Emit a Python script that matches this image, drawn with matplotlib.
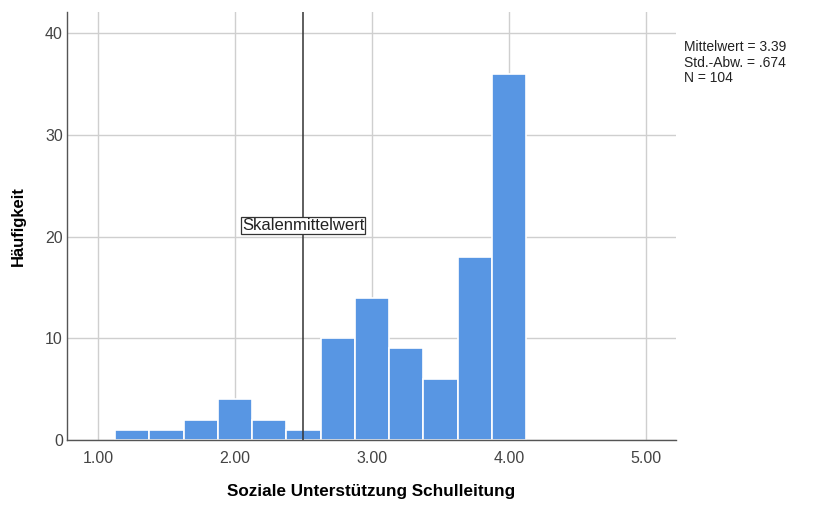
import matplotlib
matplotlib.use('Agg')
from matplotlib import pyplot as plt

plt.rcParams['font.family'] = ['Liberation Sans', 'DejaVu Sans']

# bin centres (width .25) and counts
bin_centers = [1.25, 1.50, 1.75, 2.00, 2.25, 2.50, 2.75, 3.00, 3.25, 3.50, 3.75, 4.00]
counts = [1, 1, 2, 4, 2, 1, 10, 14, 9, 6, 18, 36]
bin_width = 0.25
scale_mean = 2.5
stats_lines = ['Mittelwert = 3.39', 'Std.-Abw. = .674', 'N = 104']
xticks = [1, 2, 3, 4, 5]
xtick_labels = ['1.00', '2.00', '3.00', '4.00', '5.00']
yticks = [0, 10, 20, 30, 40]

fig = plt.figure(figsize=(8.13, 5.05), dpi=100)
ax = fig.add_axes([0.0824, 0.1287, 0.7491, 0.8473])

ax.bar(bin_centers, counts, width=bin_width, color='#5896e3',
       edgecolor='white', linewidth=1.2, zorder=2)
ax.axvline(scale_mean, color='#333333', linewidth=1.1, zorder=3)
ax.text(scale_mean, 21.1, 'Skalenmittelwert', ha='center', va='center',
        fontsize=12, color='#222222', zorder=4,
        bbox=dict(boxstyle='square,pad=0.05', facecolor='white',
                  edgecolor='#333333', linewidth=0.9))

ax.set_xlim(0.774, 5.219)
ax.set_ylim(0, 42.06)
ax.set_xticks(xticks)
ax.set_xticklabels(xtick_labels)
ax.set_yticks(yticks)
ax.grid(True, color='#cfcfcf', linewidth=1.0, zorder=0)
ax.set_axisbelow(True)
for side in ['top', 'right']:
    ax.spines[side].set_visible(False)
for side in ['left', 'bottom']:
    ax.spines[side].set_color('#555555')
    ax.spines[side].set_linewidth(1.0)
ax.tick_params(axis='x', length=0, labelsize=11.5, labelcolor='#444444', pad=8)
ax.tick_params(axis='y', length=0, labelsize=11.5, labelcolor='#444444', pad=3)

ax.set_xlabel('Soziale Unterstützung Schulleitung', fontsize=12.3,
              fontweight='bold', labelpad=13)
ax.set_ylabel('Häufigkeit', fontsize=12, fontweight='bold', labelpad=14)

fig.text(684 / 813, 1 - 40 / 505, '\n'.join(stats_lines), ha='left', va='top',
         fontsize=10, color='#222222', linespacing=1.15)

fig.savefig('out.png', dpi=100)
